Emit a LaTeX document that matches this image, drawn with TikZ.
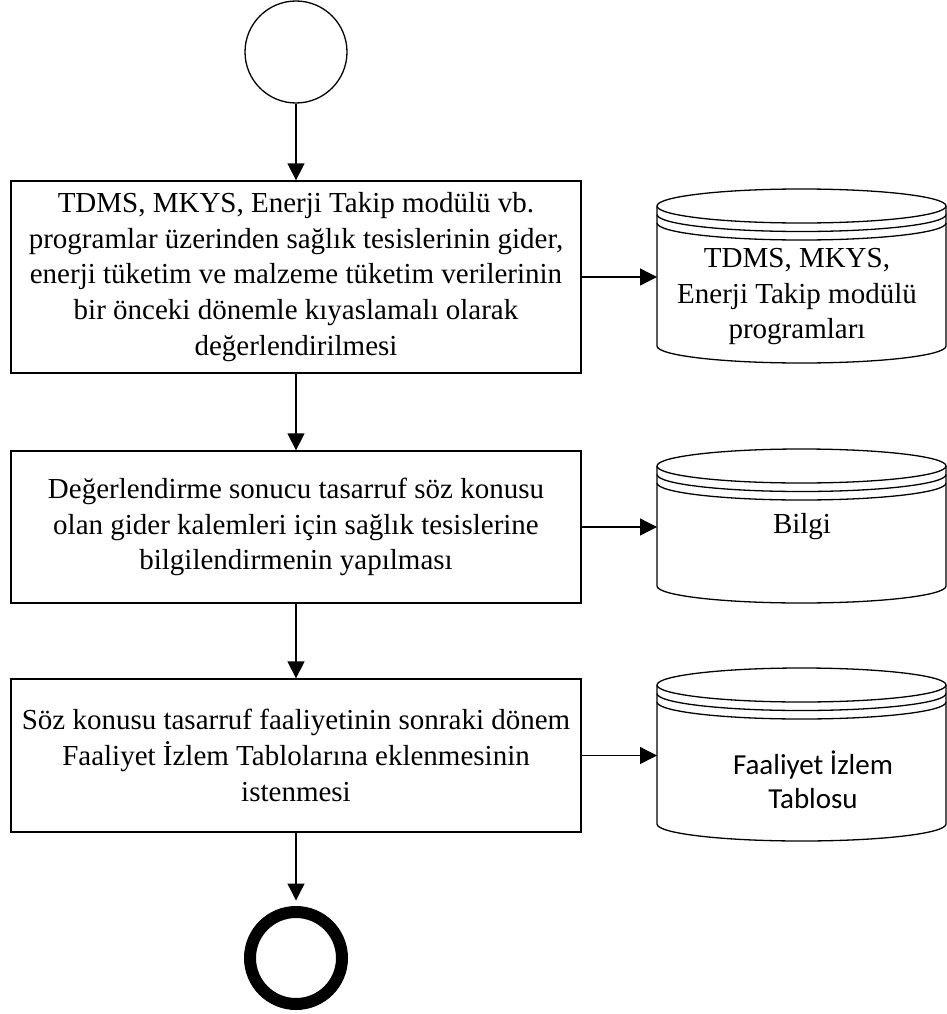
\documentclass[tikz,border=0pt]{standalone}
\usepackage{fontspec}
\setmainfont{Liberation Serif}
\newfontfamily\calibrifont{Carlito}
\usetikzlibrary{arrows.meta,calc}
\newcommand{\dbshape}[1]{%
  \draw[line] ($(#1.north west)+(0,-17)$) -- ($(#1.south west)+(0,17)$)
    arc[start angle=180,end angle=360,x radius=144.5,y radius=17]
    -- ($(#1.north east)+(0,-17)$);
  \draw[line] ($(#1.north)+(0,-17)$) ellipse[x radius=144.5,y radius=17];
  \draw[line] ($(#1.north west)+(0,-25.5)$) arc[start angle=180,end angle=360,x radius=144.5,y radius=17];
  \draw[line] ($(#1.north west)+(0,-34)$) arc[start angle=180,end angle=360,x radius=144.5,y radius=17];
}
\begin{document}
\begin{tikzpicture}[x=1pt,y=1pt,
  line/.style={line width=1.3pt},
  flow/.style={line width=1.3pt,-{Triangle[length=17pt,width=17pt]}},
  stepbox/.style={draw,line width=1.3pt,minimum width=570pt,align=center,inner sep=0pt,
    font=\fontsize{29}{35.7}\selectfont},
  dbframe/.style={draw=none,minimum width=289pt,inner sep=0pt,outer sep=0pt},
  dbtext/.style={align=center,inner sep=0pt,font=\fontsize{29}{35.5}\selectfont}]
\useasboundingbox (0,0) rectangle (947,-1014);
\node[draw,circle,line width=1.3pt,minimum size=102pt,inner sep=0pt] (start) at (296,-52) {};
\node[stepbox,minimum height=192pt] (b1) at (296,-277) {TDMS, MKYS, Enerji Takip modülü vb.\\programlar üzerinden sağlık tesislerinin gider,\\enerji tüketim ve malzeme tüketim verilerinin\\bir önceki dönemle kıyaslamalı olarak\\değerlendirilmesi};
\node[stepbox,minimum height=152pt] (b2) at (296,-527) {Değerlendirme sonucu tasarruf söz konusu\\olan gider kalemleri için sağlık tesislerine\\bilgilendirmenin yapılması};
\node[stepbox,minimum height=153pt] (b3) at (296,-755.5) {Söz konusu tasarruf faaliyetinin sonraki dönem\\Faaliyet İzlem Tablolarına eklenmesinin\\istenmesi};
\node[draw,circle,line width=12pt,minimum size=92pt,inner sep=0pt] (end) at (296,-958) {};

\node[dbframe,minimum height=174pt] (c1) at (801.5,-276) {};
\node[dbframe,minimum height=154pt] (c2) at (801.5,-526) {};
\node[dbframe,minimum height=173pt] (c3) at (801.5,-754.5) {};
\dbshape{c1}
\dbshape{c2}
\dbshape{c3}
\node[dbtext] (t1) at (797,-297) {TDMS, MKYS,\\Enerji Takip modülü\\programları};
\node[dbtext] (t2) at (802,-527) {Bilgi};
\node[dbtext,font=\calibrifont\fontsize{29}{34}\selectfont] (t3) at (813,-780) {Faaliyet İzlem\\Tablosu};

\draw[flow] (start) -- (b1);
\draw[flow] (b1) -- (b2);
\draw[flow] (b2) -- (b3);
\draw[flow,shorten >=5.5pt] (b3) -- (end);
\draw[flow] (b1.east) -- (b1.east -| c1.west);
\draw[flow] (b2.east) -- (b2.east -| c2.west);
\draw[flow] (b3.east) -- (b3.east -| c3.west);
\end{tikzpicture}
\end{document}
